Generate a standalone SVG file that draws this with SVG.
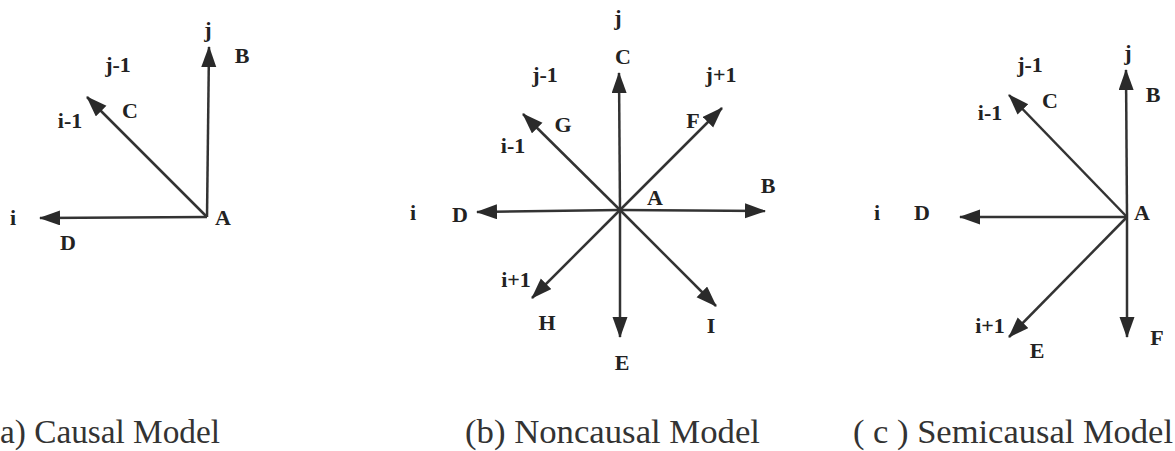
<svg xmlns="http://www.w3.org/2000/svg" width="1175" height="451" viewBox="0 0 1175 451">
<defs>
<marker id="ah" markerUnits="userSpaceOnUse" markerWidth="22" markerHeight="16" refX="20" refY="7.5" orient="auto">
<path d="M0,0 L21,7.5 L0,15 z" fill="#2a2a2a"/>
</marker>
<style>
.c line{stroke:#333;stroke-width:2.5;marker-end:url(#ah)}
.l{font-size:22px;font-weight:bold;text-anchor:middle;fill:#222}
.cap{font-size:33px;fill:#333}
</style>
</defs>
<rect width="1175" height="451" fill="#fff"/>
<g id="connectors" class="c">
<line x1="207" y1="217" x2="209" y2="47"/>
<line x1="207" y1="217" x2="87" y2="97"/>
<line x1="207" y1="217" x2="40" y2="218"/>
<line x1="620" y1="210" x2="619" y2="73"/>
<line x1="620" y1="210" x2="620" y2="337"/>
<line x1="620" y1="210" x2="477" y2="212"/>
<line x1="620" y1="210" x2="765" y2="211"/>
<line x1="620" y1="210" x2="523" y2="114"/>
<line x1="620" y1="210" x2="722" y2="108"/>
<line x1="620" y1="210" x2="532" y2="298"/>
<line x1="620" y1="210" x2="716" y2="306"/>
<line x1="1127" y1="217" x2="1126" y2="70"/>
<line x1="1127" y1="217" x2="1127" y2="337"/>
<line x1="1127" y1="217" x2="960" y2="217"/>
<line x1="1127" y1="217" x2="1009" y2="95"/>
<line x1="1127" y1="217" x2="1009" y2="337"/>
</g>
<g id="panel-a" font-family="Liberation Serif, serif">
<text class="l" x="208" y="37">j</text>
<text class="l" x="242" y="63">B</text>
<text class="l" x="118" y="72">j-1</text>
<text class="l" x="130" y="118">C</text>
<text class="l" x="70" y="128">i-1</text>
<text class="l" x="13" y="225">i</text>
<text class="l" x="68" y="250">D</text>
<text class="l" x="223" y="225">A</text>
<text class="cap" x="0" y="443" textLength="220" lengthAdjust="spacingAndGlyphs">a) Causal Model</text>
</g>
<g id="panel-b" font-family="Liberation Serif, serif">
<text class="l" x="618" y="25">j</text>
<text class="l" x="623" y="64">C</text>
<text class="l" x="545" y="82">j-1</text>
<text class="l" x="721" y="82">j+1</text>
<text class="l" x="563" y="132">G</text>
<text class="l" x="693" y="128">F</text>
<text class="l" x="513" y="153">i-1</text>
<text class="l" x="768" y="193">B</text>
<text class="l" x="655" y="205">A</text>
<text class="l" x="413" y="220">i</text>
<text class="l" x="460" y="222">D</text>
<text class="l" x="516" y="287">i+1</text>
<text class="l" x="547" y="330">H</text>
<text class="l" x="711" y="333">I</text>
<text class="l" x="622" y="370">E</text>
<text class="cap" x="465" y="443" textLength="295" lengthAdjust="spacingAndGlyphs">(b) Noncausal Model</text>
</g>
<g id="panel-c" font-family="Liberation Serif, serif">
<text class="l" x="1128" y="60">j</text>
<text class="l" x="1153" y="102">B</text>
<text class="l" x="1030" y="72">j-1</text>
<text class="l" x="1050" y="108">C</text>
<text class="l" x="990" y="120">i-1</text>
<text class="l" x="877" y="220">i</text>
<text class="l" x="922" y="220">D</text>
<text class="l" x="1142" y="220">A</text>
<text class="l" x="990" y="333">i+1</text>
<text class="l" x="1037" y="358">E</text>
<text class="l" x="1157" y="345">F</text>
<text class="cap" x="853" y="443" textLength="320" lengthAdjust="spacingAndGlyphs">( c ) Semicausal Model</text>
</g>
</svg>
